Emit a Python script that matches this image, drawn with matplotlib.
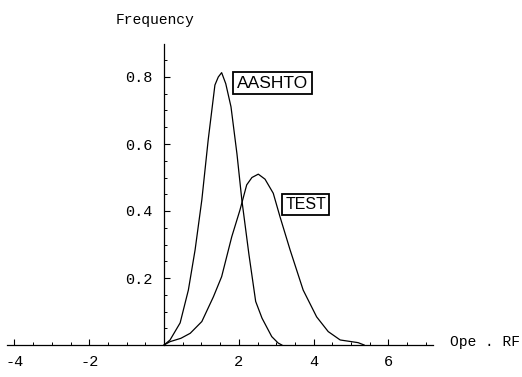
import matplotlib
matplotlib.use("Agg")
import matplotlib.pyplot as plt
from matplotlib.ticker import FixedLocator

# Data
aashto_x = [0, 0.16, 0.43, 0.65, 0.83, 1.01, 1.18, 1.36, 1.45, 1.54, 1.65, 1.79, 1.95, 2.08, 2.27, 2.45, 2.62, 2.88, 3.05, 3.15]
aashto_y = [0, 0.015, 0.066, 0.164, 0.284, 0.433, 0.612, 0.776, 0.80, 0.813, 0.78, 0.711, 0.57, 0.433, 0.27, 0.13, 0.08, 0.025, 0.006, 0.0]

test_x = [0, 0.16, 0.45, 0.70, 1.01, 1.32, 1.54, 1.81, 2.03, 2.21, 2.35, 2.52, 2.70, 2.92, 3.10, 3.37, 3.72, 4.08, 4.39, 4.71, 5.19, 5.35]
test_y = [0, 0.01, 0.02, 0.035, 0.07, 0.144, 0.204, 0.323, 0.403, 0.478, 0.500, 0.510, 0.495, 0.453, 0.383, 0.284, 0.164, 0.084, 0.040, 0.015, 0.007, 0.0]

x_major = [-4, -2, 2, 4, 6]
x_labels = ["-4", "-2", "2", "4", "6"]
y_major = [0.2, 0.4, 0.6, 0.8]
y_labels = ["0.2", "0.4", "0.6", "0.8"]

W, H = 522, 377
fig = plt.figure(figsize=(W / 100, H / 100), dpi=100)
xmin, xmax = -4.2, 7.2
ymin, ymax = -0.05, 0.9
px_left, px_right = 7, 433.3
px_top, px_bottom = 43.5, 361.75
ax = fig.add_axes([px_left / W, 1 - px_bottom / H, (px_right - px_left) / W, (px_bottom - px_top) / H])
ax.set_xlim(xmin, xmax)
ax.set_ylim(ymin, ymax)

for s in ["top", "right"]:
    ax.spines[s].set_visible(False)
ax.spines["left"].set_position(("data", 0))
ax.spines["bottom"].set_position(("data", 0))
ax.spines["left"].set_bounds(0, ymax)
ax.spines["left"].set_linewidth(0.9)
ax.spines["bottom"].set_linewidth(0.9)

mono = "Liberation Mono"
x_minor = [k * 0.5 for k in range(-8, 15) if k != 0]
y_minor = [k * 0.05 for k in range(1, 18)]
ax.xaxis.set_major_locator(FixedLocator(x_major))
ax.set_xticklabels(x_labels, fontfamily=mono, fontsize=11)
ax.xaxis.set_minor_locator(FixedLocator(x_minor))
ax.yaxis.set_major_locator(FixedLocator(y_major))
ax.set_yticklabels(y_labels, fontfamily=mono, fontsize=11)
ax.yaxis.set_minor_locator(FixedLocator(y_minor))
ax.tick_params(axis="both", which="major", direction="in", length=4, width=0.8, color="black")
ax.tick_params(axis="both", which="minor", direction="in", length=2.5, width=0.7, color="black")
ax.tick_params(axis="x", which="major", pad=7)
ax.tick_params(axis="y", which="major", pad=8)

ax.plot(aashto_x, aashto_y, color="black", lw=0.9)
ax.plot(test_x, test_y, color="black", lw=0.9)

box = dict(boxstyle="square,pad=0.2", fc="white", ec="black", lw=1.3)
ax.text(2.90, 0.781, "AASHTO", ha="center", va="center", fontfamily="Liberation Sans", fontsize=12.5, bbox=box)
ax.text(3.79, 0.420, "TEST", ha="center", va="center", fontfamily="Liberation Sans", fontsize=11.5, bbox=box)

fig.text(155 / W, 1 - 20 / H, "Frequency", ha="center", va="center", fontfamily=mono, fontsize=10.5)
fig.text(450 / W, 1 - 342 / H, "Ope . RF", ha="left", va="center", fontfamily=mono, fontsize=10.5)

fig.savefig("out.png", dpi=100)
